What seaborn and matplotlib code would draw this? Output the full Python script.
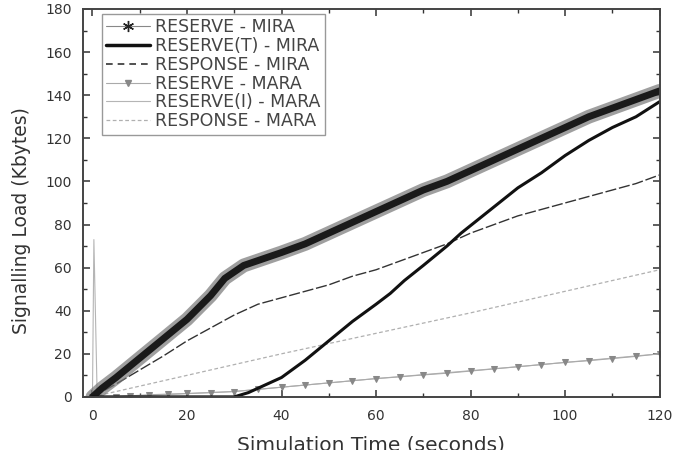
import numpy as np
import matplotlib
matplotlib.use("Agg")
import matplotlib.pyplot as plt
import seaborn as sns
from matplotlib.lines import Line2D
from matplotlib.ticker import MultipleLocator

# RESERVE - MIRA (dense star band)
t_res_mira = [0, 2, 5, 10, 15, 20, 25, 28, 32, 36, 40, 45, 50, 55, 60, 65, 70,
              75, 80, 85, 90, 95, 100, 105, 110, 115, 120]
v_res_mira = [0, 4, 9, 18, 27, 36, 47, 55, 61, 64, 67, 71, 76, 81, 86, 91, 96,
              100, 105, 110, 115, 120, 125, 130, 134, 138, 142]

# RESERVE(T) - MIRA
t_rest_mira = [0, 30, 33, 36, 40, 45, 50, 55, 60, 63, 66, 70, 75, 78, 82, 86,
               90, 95, 100, 105, 110, 115, 120]
v_rest_mira = [0, 0, 2, 5, 9, 17, 26, 35, 43, 48, 54, 61, 70, 76, 83, 90,
               97, 104, 112, 119, 125, 130, 137]

# RESPONSE - MIRA
t_resp_mira = [0, 5, 10, 15, 20, 25, 30, 35, 40, 45, 50, 55, 60, 65, 70, 75,
               80, 85, 90, 95, 100, 105, 110, 115, 120]
v_resp_mira = [0, 6, 12.5, 19, 26, 32, 38, 43, 46, 49, 52, 56, 59, 63, 67, 71,
               76, 80, 84, 87, 90, 93, 96, 99, 103]

# RESERVE - MARA
t_res_mara = [0, 5, 8, 12, 16, 20, 25, 30, 35, 40, 45, 50, 55, 60, 65, 70, 75,
              80, 85, 90, 95, 100, 105, 110, 115, 120]
v_res_mara = [0, 0, 0.5, 1, 1.3, 1.6, 2, 2.5, 3.5, 4.5, 5.5, 6.5, 7.5, 8.5,
              9.3, 10.2, 11, 12, 13, 14, 15, 16, 16.8, 17.8, 18.8, 20]

# RESERVE(I) - MARA
t_resi_mara = [0, 0.3, 1, 10, 30, 60, 90, 120]
v_resi_mara = [0, 73, 0, 0.5, 2.5, 8.5, 14, 20]

# RESPONSE - MARA
t_resp_mara = [0, 20, 40, 60, 80, 100, 120]
v_resp_mara = [0, 10, 20, 29.5, 39, 49, 59]

labels = ["RESERVE - MIRA", "RESERVE(T) - MIRA", "RESPONSE - MIRA",
          "RESERVE - MARA", "RESERVE(I) - MARA", "RESPONSE - MARA"]

sns.set_theme(style="ticks")
plt.rcParams['font.family'] = ['DejaVu Sans']

fig = plt.figure(figsize=(6.76, 4.5), dpi=100)
ax = fig.add_axes([0.1228, 0.118, 0.853, 0.862])

sns.lineplot(x=t_resp_mara, y=v_resp_mara, ax=ax, color='#b0b0b0', lw=0.9,
             linestyle=(0, (3, 2)))
sns.lineplot(x=t_resi_mara, y=v_resi_mara, ax=ax, color='#b5b5b5', lw=0.8)
sns.lineplot(x=t_res_mara, y=v_res_mara, ax=ax, color='#aaaaaa', lw=0.8,
             marker='v', markersize=5, markerfacecolor='#888888',
             markeredgecolor='#888888')
sns.lineplot(x=t_resp_mira, y=v_resp_mira, ax=ax, color='#333333', lw=1.0,
             linestyle=(0, (8, 2)))
sns.lineplot(x=t_res_mira, y=v_res_mira, ax=ax, color='#777777', lw=10,
             alpha=0.7)
sns.lineplot(x=t_res_mira, y=v_res_mira, ax=ax, color='#1a1a1a', lw=5)
sns.lineplot(x=t_rest_mira, y=v_rest_mira, ax=ax, color='#111111', lw=2.2)

ax.set_xlim(-2, 120)
ax.set_ylim(0, 180)
ax.xaxis.set_major_locator(MultipleLocator(20))
ax.xaxis.set_minor_locator(MultipleLocator(10))
ax.yaxis.set_major_locator(MultipleLocator(20))
ax.yaxis.set_minor_locator(MultipleLocator(10))
ax.tick_params(which='both', direction='in', top=True, right=True,
               colors='#333333', labelcolor='#333333')
ax.tick_params(which='major', length=5, width=1.1, labelsize=10)
ax.tick_params(axis='x', which='major', pad=9)
ax.tick_params(axis='y', which='major', pad=8)
ax.tick_params(which='minor', length=3, width=1.0)
for s in ax.spines.values():
    s.set_linewidth(1.4)
    s.set_color('#444444')

ax.set_xlabel("Simulation Time (seconds)", fontsize=14.5, color='#333333',
              labelpad=9)
ax.set_ylabel("Signalling Load (Kbytes)", fontsize=13.5, color='#333333')
ax.yaxis.set_label_coords(-0.09, 0.455)

handles = [
    Line2D([], [], color='#888888', lw=0.8, marker=(6, 2, 0), markersize=8,
           markeredgecolor='#222222', markeredgewidth=1.0),
    Line2D([], [], color='#111111', lw=2.5),
    Line2D([], [], color='#333333', lw=1.2, linestyle=(0, (4, 3))),
    Line2D([], [], color='#aaaaaa', lw=0.8, marker='v', markersize=4,
           markerfacecolor='#888888', markeredgecolor='#888888'),
    Line2D([], [], color='#b5b5b5', lw=0.8),
    Line2D([], [], color='#b0b0b0', lw=0.9, linestyle=(0, (3, 2))),
]
leg = ax.legend(handles, labels, loc='upper left', bbox_to_anchor=(0.033, 0.988),
                borderaxespad=0, fontsize=12.5, labelspacing=0.05,
                handlelength=2.5, handletextpad=0.3, borderpad=0.25,
                fancybox=False, framealpha=1, edgecolor='#999999')
leg.get_frame().set_linewidth(1.0)
for txt in leg.get_texts():
    txt.set_color('#444444')

fig.savefig("out.png", dpi=100)
